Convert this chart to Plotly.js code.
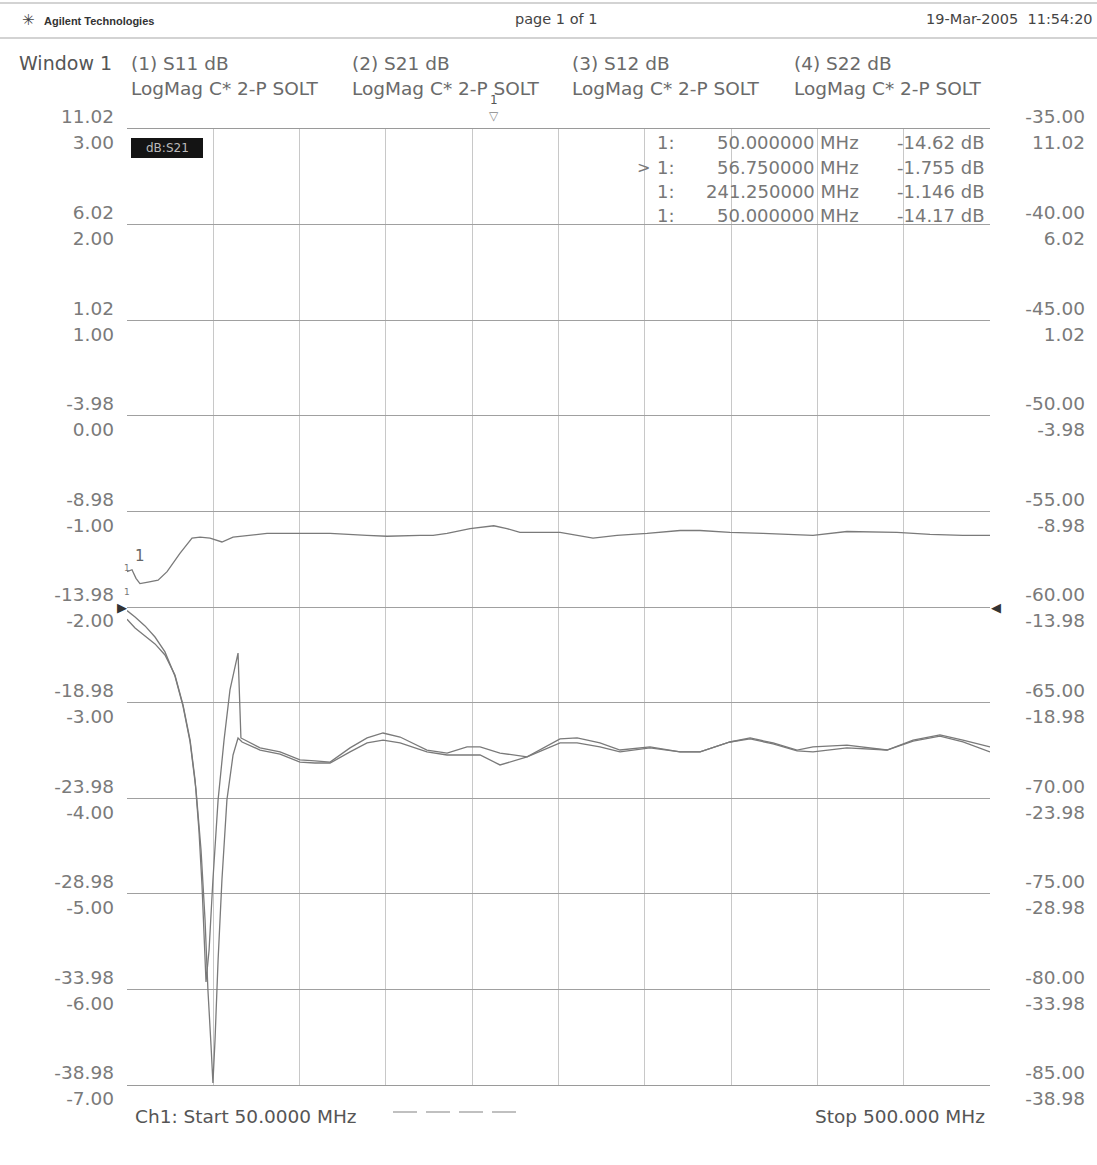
<!DOCTYPE html>
<html><head><meta charset="utf-8">
<script src="https://cdn.plot.ly/plotly-3.0.1.min.js"></script>
<style>html,body{margin:0;padding:0;background:#fff;}#chart{width:1097px;height:1165px;}</style>
</head><body><div id="chart"></div>
<script>
// ---------------- data ----------------
const s11Freq = [50,54.2,59.4,64.6,69.8,75.0,79.2,82.9,85.5,87.5,89.1,90.2,91.2,92.8,94.8,97.5,100.6,103.7,106.3,107.9,109.4,
  119.4,129.8,140.2,148.0,155.9,166.3,175.2,183.5,192.4,206.4,216.9,227.3,234.1,244.5,258.6,275.8,284.7,296.6,307.1,322.7,338.4,348.8,364.4,374.9,386.9,399.4,407.7,425.4,446.3,459.9,473.9,485.9,500];
const s11Db = [-14.62,-15.08,-15.50,-15.91,-16.49,-17.54,-19.10,-20.94,-23.03,-25.64,-28.52,-31.40,-33.59,-31.92,-28.26,-24.07,-20.94,-18.32,-17.01,-16.39,-20.83,
  -21.35,-21.56,-21.98,-22.03,-22.09,-21.35,-20.83,-20.57,-20.78,-21.46,-21.62,-21.30,-21.30,-21.62,-21.82,-20.88,-20.83,-21.09,-21.46,-21.30,-21.56,-21.56,-21.04,-20.83,-21.09,-21.46,-21.30,-21.20,-21.46,-20.94,-20.67,-20.94,-21.30];

const s22Freq = [50,54.2,59.4,64.6,69.8,75.0,79.2,82.9,86.0,88.6,90.7,92.2,93.8,94.8,95.9,97.5,99.5,102.1,105.3,107.9,110.0,
  119.4,129.8,140.2,148.0,155.9,166.3,175.2,183.5,192.4,206.4,216.9,227.3,234.1,244.5,258.6,275.8,284.7,296.6,307.1,322.7,338.4,348.8,364.4,374.9,386.9,399.4,407.7,425.4,446.3,459.9,473.9,485.9,500];
const s22Db = [-14.17,-14.50,-14.97,-15.55,-16.33,-17.59,-19.16,-21.04,-23.55,-26.69,-30.35,-34.01,-36.89,-38.87,-36.62,-32.44,-28.26,-24.07,-21.72,-20.83,-21.04,
  -21.46,-21.67,-22.09,-22.14,-22.14,-21.56,-21.09,-20.94,-21.09,-21.56,-21.72,-21.72,-21.72,-22.24,-21.82,-21.09,-21.09,-21.30,-21.56,-21.35,-21.56,-21.56,-21.04,-20.88,-21.14,-21.51,-21.56,-21.35,-21.46,-20.99,-20.73,-21.04,-21.56];

const s21Freq = [50,52.6,54.7,56.75,61.0,66.2,70.9,77.6,83.9,88.1,93.3,99.5,105.3,114.1,123.0,140.2,155.9,175.1,185.6,202.8,209.6,216.9,228.9,241.25,248.1,254.9,275.8,293.0,305.5,321.2,338.4,348.8,364.4,381.6,407.7,425.4,451.5,468.7,485.9,500];
const s21Db = [-1.63,-1.61,-1.70,-1.755,-1.74,-1.72,-1.63,-1.44,-1.28,-1.27,-1.28,-1.32,-1.27,-1.25,-1.23,-1.23,-1.23,-1.25,-1.26,-1.25,-1.25,-1.23,-1.18,-1.15,-1.18,-1.22,-1.22,-1.28,-1.25,-1.23,-1.20,-1.20,-1.22,-1.23,-1.25,-1.21,-1.22,-1.24,-1.25,-1.25];

const xTickVals = [50,95,140,185,230,275,320,365,410,455,500];
const leftOuterLabels  = ['11.02','6.02','1.02','-3.98','-8.98','-13.98','-18.98','-23.98','-28.98','-33.98','-38.98'];
const leftInnerLabels  = ['3.00','2.00','1.00','0.00','-1.00','-2.00','-3.00','-4.00','-5.00','-6.00','-7.00'];
const rightOuterLabels = ['-35.00','-40.00','-45.00','-50.00','-55.00','-60.00','-65.00','-70.00','-75.00','-80.00','-85.00'];
const rightInnerLabels = ['11.02','6.02','1.02','-3.98','-8.98','-13.98','-18.98','-23.98','-28.98','-33.98','-38.98'];

const traceTitles = ['(1) S11 dB','(2) S21 dB','(3) S12 dB','(4) S22 dB'];
const traceFormats = ['LogMag C* 2-P SOLT','LogMag C* 2-P SOLT','LogMag C* 2-P SOLT','LogMag C* 2-P SOLT'];
const markerFreqs = [50, 56.75, 241.25, 50];
const markerDb = [-14.62, -1.755, -1.146, -14.17];
const startFreq = 50, stopFreq = 500;

// ---------------- helpers ----------------
const num = a => a.map(Number);
const PX = x => (x - 127) / 965;
const PY = y => (1085 - y) / 956;
const FONT = 'DejaVu Sans';
const lineStyle = {color:'#7a7a7a', width:1.3};

const traces = [
  {x:s11Freq, y:s11Db, yaxis:'y', mode:'lines', line:lineStyle, hoverinfo:'skip', name:'S11'},
  {x:s21Freq, y:s21Db, yaxis:'y2', mode:'lines', line:lineStyle, hoverinfo:'skip', name:'S21'},
  {x:[markerFreqs[2]], y:[markerDb[2]], yaxis:'y3', mode:'markers', marker:{color:'#7a7a7a', size:4}, hoverinfo:'skip', name:'S12', cliponaxis:true},
  {x:s22Freq, y:s22Db, yaxis:'y4', mode:'lines', line:lineStyle, hoverinfo:'skip', name:'S22'}
];

const tickFont = {family:FONT, size:18.5, color:'#7a7a7a'};
const yCommon = {ticks:'', zeroline:false, showline:false, fixedrange:true, tickfont:tickFont, tickmode:'array'};

const layout = {
  width:1097, height:1165,
  margin:{l:127, r:5, t:129, b:80, pad:0},
  paper_bgcolor:'#fff', plot_bgcolor:'#fff',
  showlegend:false,
  xaxis:{domain:[0, 863/965], range:[startFreq, stopFreq], tickmode:'array', tickvals:xTickVals,
         showticklabels:false, ticks:'', showgrid:true, gridcolor:'#c8c8c8', gridwidth:1,
         zeroline:false, showline:true, mirror:true, linecolor:'#9a9a9a', linewidth:1},
  yaxis:Object.assign({}, yCommon, {range:[-38.98, 11.02], tickvals:num(leftOuterLabels), ticktext:leftOuterLabels,
         side:'left', anchor:'x', showgrid:true, gridcolor:'#a0a0a0', gridwidth:1,
         ticklabelshift:-12, ticklabelstandoff:12}),
  yaxis2:Object.assign({}, yCommon, {range:[-7, 3], tickvals:num(leftInnerLabels), ticktext:leftInnerLabels,
         overlaying:'y', side:'left', anchor:'x', showgrid:false,
         ticklabelshift:14, ticklabelstandoff:12}),
  yaxis3:Object.assign({}, yCommon, {range:[-85, -35], tickvals:num(rightOuterLabels), ticktext:rightOuterLabels,
         overlaying:'y', side:'right', anchor:'free', position:1, showgrid:false,
         ticklabelposition:'inside', ticklabeloverflow:'allow', ticklabelshift:-12, ticklabelstandoff:4}),
  yaxis4:Object.assign({}, yCommon, {range:[-38.98, 11.02], tickvals:num(rightInnerLabels), ticktext:rightInnerLabels,
         overlaying:'y', side:'right', anchor:'free', position:1, showgrid:false,
         ticklabelposition:'inside', ticklabeloverflow:'allow', ticklabelshift:14, ticklabelstandoff:4}),
  shapes:[], annotations:[]
};

const ann = (o) => layout.annotations.push(Object.assign({showarrow:false, xref:'paper', yref:'paper'}, o));
const txt = (size, color) => ({family:FONT, size:size, color:color});

// header
layout.shapes.push({type:'line', xref:'paper', yref:'paper', x0:PX(0), x1:PX(1097), y0:PY(3), y1:PY(3), line:{color:'#c4c4c4', width:1.5}});
layout.shapes.push({type:'line', xref:'paper', yref:'paper', x0:PX(0), x1:PX(1097), y0:PY(38), y1:PY(38), line:{color:'#c4c4c4', width:1.5}});
ann({x:PX(28), y:PY(20), text:'✳', font:txt(15,'#444'), xanchor:'center', yanchor:'middle'});
ann({x:PX(42), y:PY(21), text:'<b>Agilent Technologies</b>', font:{family:'Liberation Sans', size:11, color:'#333'}, xanchor:'left', yanchor:'middle'});
ann({x:PX(556), y:PY(19), text:'page 1 of 1', font:txt(14.5,'#444'), xanchor:'center', yanchor:'middle'});
ann({x:PX(1095), y:PY(19), text:'19-Mar-2005  11:54:20', font:txt(14.5,'#444'), xanchor:'right', yanchor:'middle'});

// window title & trace titles
ann({x:PX(17), y:PY(63), text:'Window 1', font:txt(19,'#555'), xanchor:'left', yanchor:'middle'});
const colX = [129, 350, 570, 792];
traceTitles.forEach((t,i) => {
  ann({x:PX(colX[i]), y:PY(63), text:t, font:txt(18.5,'#6a6a6a'), xanchor:'left', yanchor:'middle'});
  ann({x:PX(colX[i]), y:PY(88), text:traceFormats[i], font:txt(18.5,'#6a6a6a'), xanchor:'left', yanchor:'middle'});
});

// marker readout
markerFreqs.forEach((f,i) => {
  const y = PY(143 + 24.2*i);
  if (i === 1) ann({x:PX(652), y:y, text:'>', font:txt(16,'#777'), xanchor:'right', yanchor:'middle'});
  ann({x:PX(677), y:y, text:'1:', font:txt(18,'#777'), xanchor:'right', yanchor:'middle'});
  ann({x:PX(861), y:y, text:f.toFixed(6) + ' MHz', font:txt(18,'#777'), xanchor:'right', yanchor:'middle'});
  ann({x:PX(987), y:y, text:markerDb[i].toPrecision(4) + ' dB', font:txt(18,'#777'), xanchor:'right', yanchor:'middle'});
});

// active trace box
layout.shapes.push({type:'rect', xref:'paper', yref:'paper', x0:PX(131), x1:PX(203), y0:PY(158), y1:PY(138), fillcolor:'#141414', line:{width:0}});
ann({x:PX(167), y:PY(148), text:'dB:S21', font:txt(12,'#bbb'), xanchor:'center', yanchor:'middle'});

// marker indicators
ann({xref:'x', x:markerFreqs[2], y:1, text:'▽', font:txt(12,'#888'), xanchor:'center', yanchor:'bottom', yshift:4});
ann({xref:'x', x:markerFreqs[2], y:1, text:'1', font:txt(12,'#555'), xanchor:'center', yanchor:'bottom', yshift:20});
ann({xref:'x', yref:'y2', x:markerFreqs[1], y:markerDb[1], text:'1', font:txt(15,'#666'), xanchor:'center', yanchor:'bottom', yshift:17});
ann({xref:'x', yref:'y', x:markerFreqs[0], y:markerDb[0], text:'1', font:txt(9,'#777'), xanchor:'center', yanchor:'bottom', yshift:20});
ann({xref:'x', yref:'y4', x:markerFreqs[3], y:markerDb[3], text:'1', font:txt(9,'#777'), xanchor:'center', yanchor:'bottom', yshift:36});

// reference level arrows
ann({xref:'x', yref:'y', x:startFreq, y:-13.98, text:'▶', font:txt(13,'#333'), xanchor:'right', yanchor:'middle', xshift:2});
ann({xref:'x', yref:'y', x:stopFreq, y:-13.98, text:'◀', font:txt(13,'#333'), xanchor:'left', yanchor:'middle', xshift:-1});

// footer
ann({x:PX(133), y:PY(1116), text:'Ch1: Start ' + startFreq.toFixed(4) + ' MHz', font:txt(18.5,'#555'), xanchor:'left', yanchor:'middle'});
ann({x:PX(987), y:PY(1116), text:'Stop ' + stopFreq.toFixed(3) + ' MHz', font:txt(18.5,'#555'), xanchor:'right', yanchor:'middle'});
layout.shapes.push({type:'line', xref:'paper', yref:'paper', x0:PX(393), x1:PX(517), y0:PY(1112), y1:PY(1112), line:{color:'#c0c0c0', width:2, dash:'24px,9px'}});

Plotly.newPlot('chart', traces, layout, {staticPlot:true, displayModeBar:false});
</script>
</body></html>
